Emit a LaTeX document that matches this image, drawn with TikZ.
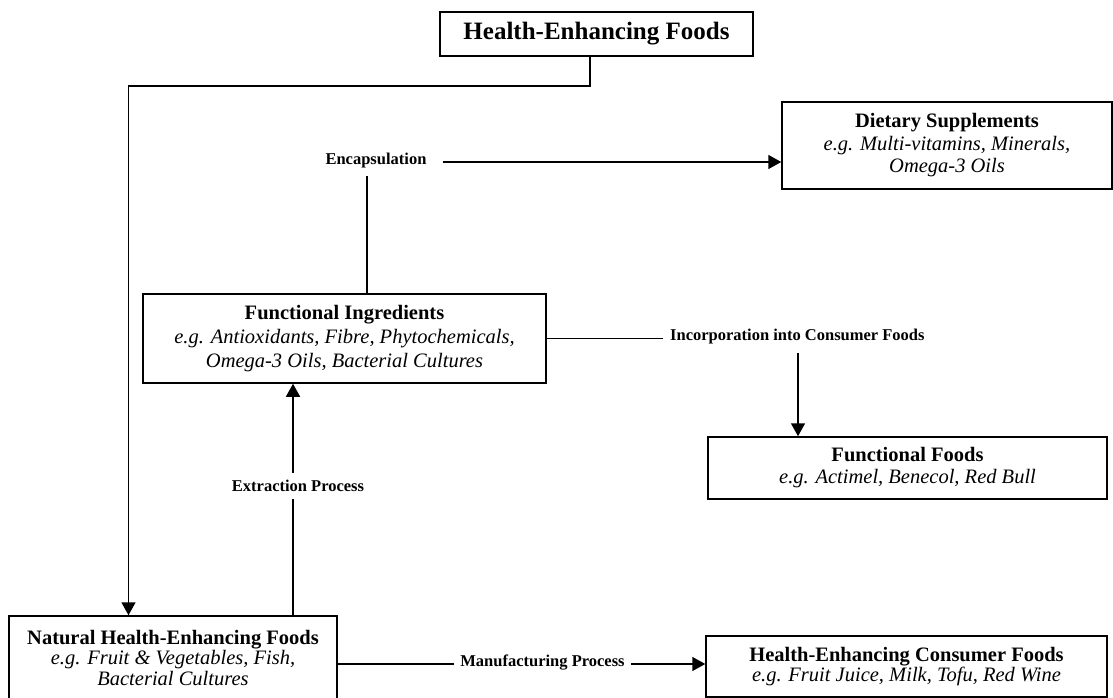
\documentclass[tikz,border=0pt]{standalone}
\usepackage{fontspec}
\setmainfont{Liberation Serif}
\usetikzlibrary{arrows.meta}

\begin{document}
\begin{tikzpicture}[x=1pt, y=-1pt,
  box/.style={draw, line width=1.5pt, inner sep=0pt, align=center,
              font=\fontsize{20.5}{24}\selectfont},
  lbl/.style={inner sep=0pt, font=\fontsize{16.5}{18}\selectfont\bfseries},
  conn/.style={line width=1.5pt},
  arr/.style={conn, -{Triangle[length=13pt, width=14pt]}}]

\useasboundingbox (0,0) rectangle (1113,698);
\fill[white] (0,0) rectangle (1113,698);

% boxes
\node[box, minimum width=313pt, minimum height=44pt,
      font=\fontsize{25}{28}\selectfont\bfseries] (hef) at (596.5,34)
  {Health-Enhancing Foods};

\node[box, minimum width=330pt, minimum height=87pt,
      font=\fontsize{20.5}{22.5}\selectfont] (ds) at (947,145.5)
  {\textbf{Dietary Supplements}\\ \textit{e.g. Multi-vitamins, Minerals,}\\ \textit{Omega-3 Oils}};

\node[box, minimum width=403pt, minimum height=89pt] (fi) at (344.5,338.5)
  {\textbf{Functional Ingredients}\\ \textit{e.g. Antioxidants, Fibre, Phytochemicals,}\\ \textit{Omega-3 Oils, Bacterial Cultures}};

\node[box, minimum width=399pt, minimum height=62pt,
      font=\fontsize{20.5}{22}\selectfont] (ff) at (907.5,468)
  {\textbf{Functional Foods}\\ \textit{e.g. Actimel, Benecol, Red Bull}};

\node[box, minimum width=328pt, minimum height=83pt,
      font=\fontsize{20.5}{20.5}\selectfont] (nhef) at (173,657.5)
  {\textbf{Natural Health-Enhancing Foods}\\ \textit{e.g. Fruit \& Vegetables, Fish,}\\ \textit{Bacterial Cultures}};

\node[box, minimum width=401pt, minimum height=61pt,
      font=\fontsize{20.5}{20.5}\selectfont] (hecf) at (906.5,666.5)
  {\textbf{Health-Enhancing Consumer Foods}\\ \textit{e.g. Fruit Juice, Milk, Tofu, Red Wine}};

% process labels
\node[lbl, anchor=mid] (enc) at (376,162) {Encapsulation};
\node[lbl, anchor=mid west] (inc) at (670,338.5) {Incorporation into Consumer Foods};
\node[lbl, minimum height=26pt] (ext) at (298,486) {Extraction Process};
\node[lbl, anchor=mid] (mfg) at (542.5,664) {Manufacturing Process};

% route from the top box down to the natural foods
\coordinate (bendR) at (590,86);
\coordinate (bendL) at (128.5,86);
\draw[arr] (bendR |- hef.south) -- (bendR) -- (bendL) -- (bendL |- nhef.north);

% encapsulation
\coordinate (encfoot) at (367,176);
\draw[conn] (encfoot |- fi.north) -- (encfoot);
\draw[arr] ([xshift=16pt]enc.mid east) -- (enc.mid -| ds.west);

% incorporation into consumer foods
\draw[conn] (fi.east) -- ([xshift=-7pt]inc.mid west);
\coordinate (incdrop) at (798,353);
\draw[arr] (incdrop) -- (incdrop |- ff.north);

% extraction
\coordinate (extx) at (293,0);
\draw[conn] (extx |- nhef.north) -- (extx |- ext.south);
\draw[arr] (extx |- ext.north) -- (extx |- fi.south);

% manufacturing
\draw[conn] (mfg.mid -| nhef.east) -- ([xshift=-6pt]mfg.mid west);
\draw[arr] ([xshift=6pt]mfg.mid east) -- (mfg.mid -| hecf.west);

\end{tikzpicture}
\end{document}
